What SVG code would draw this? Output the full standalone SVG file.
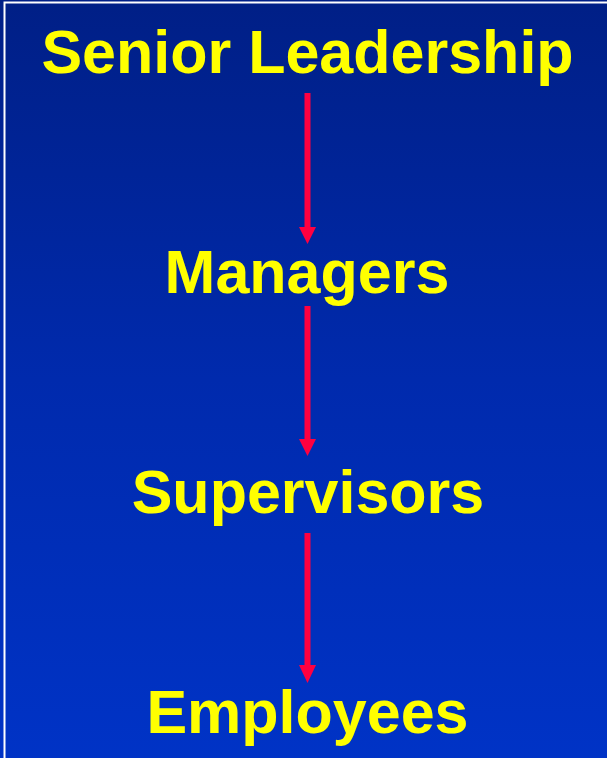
<svg xmlns="http://www.w3.org/2000/svg" width="607" height="758" viewBox="0 0 607 758">
  <defs>
    <linearGradient id="bg" x1="0" y1="0" x2="0" y2="1">
      <stop offset="0" stop-color="#001f86"/>
      <stop offset="0.5" stop-color="#002aad"/>
      <stop offset="1" stop-color="#0033c6"/>
    </linearGradient>
    <marker id="head" viewBox="0 0 17 18" refX="8.5" refY="18" markerWidth="17" markerHeight="18" markerUnits="userSpaceOnUse" orient="auto-start-reverse">
      <path d="M0,0 L17,0 L8.5,18 Z" fill="#ff0040"/>
    </marker>
    <style>
      .label { font-family: "Liberation Sans", Arial, sans-serif; font-weight: bold; font-size: 61px; fill: #ffff00; text-anchor: middle; }
      .conn { stroke: #ff0040; stroke-width: 6; fill: none; }
    </style>
  </defs>
  <rect x="0" y="0" width="607" height="758" fill="url(#bg)"/>
  <path d="M4.5,760 L4.5,2.5 L610,2.5" fill="none" stroke="#ffffff" stroke-width="2"/>
  <g id="connectors">
    <line class="conn" x1="307.5" y1="93" x2="307.5" y2="227"/>
    <path d="M299,227 L316,227 L307.5,244 Z" fill="#ff0040"/>
    <line class="conn" x1="307.5" y1="306" x2="307.5" y2="439"/>
    <path d="M299,439 L316,439 L307.5,456 Z" fill="#ff0040"/>
    <line class="conn" x1="307.5" y1="533" x2="307.5" y2="666"/>
    <path d="M299,665 L316,665 L307.5,683 Z" fill="#ff0040"/>
  </g>
  <g id="senior-leadership"><text class="label" x="307.5" y="73">Senior Leadership</text></g>
  <g id="managers"><text class="label" x="307" y="293">Managers</text></g>
  <g id="supervisors"><text class="label" x="308" y="513">Supervisors</text></g>
  <g id="employees"><text class="label" x="307.5" y="733">Employees</text></g>
</svg>
